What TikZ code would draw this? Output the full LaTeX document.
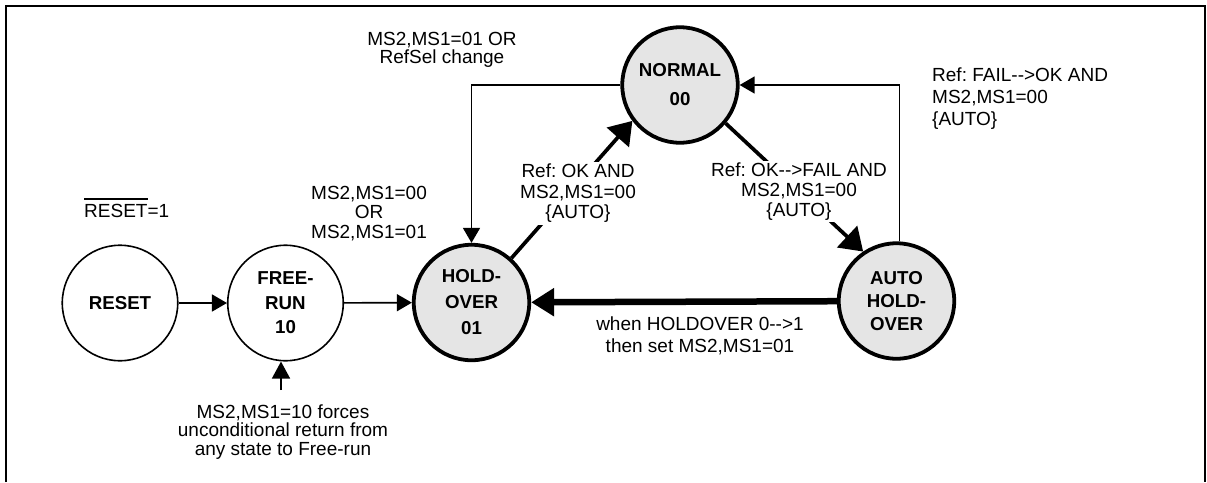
\documentclass[tikz,border=0pt]{standalone}
\usepackage{fontspec}
\setmainfont{Liberation Sans}
\usetikzlibrary{arrows.meta,calc}
\newcommand\myovl[1]{\vbox{\hrule height 1.8pt\kern 3.5pt\hbox{#1}}}
\frenchspacing
\begin{document}
\begin{tikzpicture}[x=1pt,y=-1pt,
  stnode/.style={circle,draw,line width=1.6pt,minimum size=115.5pt,inner sep=0pt,align=center},
  hstnode/.style={stnode,line width=3.8pt,fill=gray!20},
  sfont/.style={font=\bfseries\fontsize{18.7}{#1}\selectfont},
  sfont/.default=24,
  lbl/.style={font=\fontsize{19}{#1}\selectfont,align=center,inner sep=1pt},
  lbl/.default=20,
  tarrow/.style={line width=1.6pt,-{Triangle[length=15pt,width=17pt]}},
  uarrow/.style={line width=1.6pt,-{Triangle[length=17pt,width=18pt]}},
  darrow/.style={line width=3.7pt,-{Triangle[length=22pt,width=29pt]}},
  barrow/.style={line width=6.5pt,-{Triangle[length=23pt,width=27pt]}}]
\useasboundingbox (0,0) rectangle (1207,482);
\draw[line width=1.8pt] (5.8,482) -- (5.8,5.8) -- (1205.3,5.8) -- (1205.3,482);

\node[stnode,sfont] (reset) at (120,303) {RESET};
\node[stnode,sfont=24.5] (free) at (285.5,303) {FREE-\\RUN\\10};
\node[hstnode,sfont=26] (hold) at (471.5,302.5) {HOLD-\\OVER\\01};
\node[hstnode,sfont=29] (normal) at (680,85) {NORMAL\\00};
\node[hstnode,sfont=23] (auto) at (896.5,301) {AUTO\\HOLD-\\OVER};

\draw[tarrow] (reset) -- (free);
\draw[tarrow] (free) -- (hold);
\draw[tarrow] (normal.west) -| (hold.north);
\draw[tarrow] ([xshift=3pt]auto.north) |- (normal.east);
\draw[darrow] (hold.48) -- (normal.217);
\draw[darrow] (normal.320) -- (auto.124);
\draw[barrow] (auto) -- (hold);
\coordinate (frin) at (281,390);
\draw[uarrow] (frin) -- (frin |- free.south);

\node[lbl=18.3] (l1) at (442,50) {MS2,MS1=01 OR\\RefSel change};
\node[lbl=19.5] (l2) at (369,213.5) {MS2,MS1=00\\OR\\MS2,MS1=01};
\node[font=\fontsize{19}{20}\selectfont,anchor=base west,inner sep=0pt] (l3) at (84,217) {\myovl{RESET}=1};
\node[lbl=20.5,fill=white,inner sep=2pt] (l4) at (578,193.5) {Ref: OK AND\\MS2,MS1=00\\\{AUTO\}};
\node[lbl=20,fill=white,inner sep=2pt] (l5) at (799,191.5) {Ref: OK-{}->FAIL AND\\MS2,MS1=00\\\{AUTO\}};
\node[lbl=22,align=left,anchor=west] (l6) at (931,98.5) {Ref: FAIL-{}->OK AND\\MS2,MS1=00\\\{AUTO\}};
\node[lbl=22] (l7) at (700,336) {when HOLDOVER 0-{}->1\\then set MS2,MS1=01};
\node[lbl=18.7] (l8) at (283,432) {MS2,MS1=10 forces\\unconditional return from\\any state to Free-run};
\end{tikzpicture}
\end{document}
